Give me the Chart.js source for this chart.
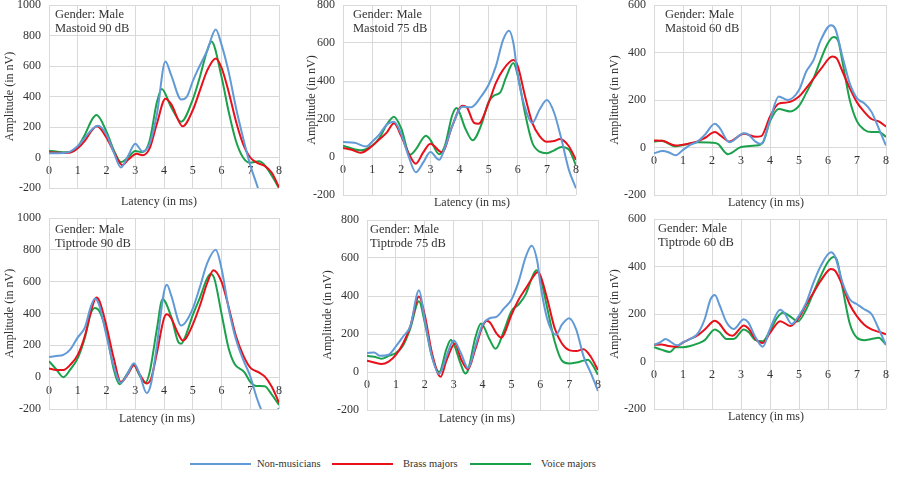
<!DOCTYPE html>
<html>
<head>
<meta charset="utf-8">
<script src="https://cdn.jsdelivr.net/npm/chart.js@4.4.1/dist/chart.umd.min.js"></script>
<style>
  body { margin: 0; background: #fff; width: 900px; height: 477px; position: relative; overflow: hidden;
         font-family: "Liberation Serif", "Times New Roman", serif; }
  .panel { position: absolute; }
  .key { position: absolute; top: 463px; height: 2px; width: 61px; }
  .keytxt { position: absolute; top: 457px; font-size: 10.5px; color: #333; line-height: 14px; }
</style>
</head>
<body>
<div class="panel" style="left:0px;top:0px;width:292px;height:210px"><canvas id="c1"></canvas></div>
<div class="panel" style="left:302px;top:0px;width:296px;height:210px"><canvas id="c2"></canvas></div>
<div class="panel" style="left:605px;top:0px;width:295px;height:210px"><canvas id="c3"></canvas></div>
<div class="panel" style="left:0px;top:210px;width:292px;height:220px"><canvas id="c4"></canvas></div>
<div class="panel" style="left:318px;top:210px;width:287px;height:220px"><canvas id="c5"></canvas></div>
<div class="panel" style="left:605px;top:210px;width:295px;height:220px"><canvas id="c6"></canvas></div>

<div class="key" style="left:190px;background:#619ad6"></div><div class="keytxt" style="left:257px">Non-musicians</div>
<div class="key" style="left:332px;background:#e8101a"></div><div class="keytxt" style="left:403px">Brass majors</div>
<div class="key" style="left:470px;background:#1ba14c"></div><div class="keytxt" style="left:541px">Voice majors</div>

<script>
// series names
const groups = ['Non-musicians', 'Brass majors', 'Voice majors'];
const colors = ['#619ad6', '#e8101a', '#1ba14c'];

// [latency ms, amplitude nV]

// Mastoid 90 dB
const m90Non = [[0,28],[0.5,30],[0.75,40],[1,75],[1.25,130],[1.5,185],[1.7,208],[2,150],[2.25,35],[2.5,-65],[2.75,10],[3,90],[3.25,40],[3.5,90],[3.75,280],[4.05,630],[4.25,540],[4.6,380],[4.8,400],[5,500],[5.15,565],[5.5,700],[5.8,840],[6,740],[6.25,560],[6.5,330],[6.75,130],[7,-50],[7.25,-190],[7.5,-350],[8,-700]];
const m90Brass = [[0,35],[0.5,30],[0.75,33],[1,60],[1.25,110],[1.5,180],[1.67,205],[2,130],[2.25,40],[2.55,-50],[2.75,-15],[3.05,25],[3.25,15],[3.5,60],[3.75,220],[4.05,385],[4.25,350],[4.65,205],[5,310],[5.25,440],[5.5,570],[5.8,650],[6,590],[6.25,430],[6.5,240],[6.75,90],[7,0],[7.25,-35],[7.5,-55],[7.75,-100],[8,-195]];
const m90Voice = [[0,45],[0.5,35],[0.75,35],[1,70],[1.25,150],[1.5,250],[1.65,278],[2,170],[2.25,50],[2.5,-30],[2.75,0],[3,42],[3.25,35],[3.5,110],[3.75,360],[3.92,450],[4.25,330],[4.6,235],[5,380],[5.25,530],[5.5,700],[5.65,760],[6,530],[6.25,300],[6.5,110],[6.75,0],[7,-35],[7.3,-25],[7.5,-50],[7.75,-120],[8,-200]];

// Mastoid 75 dB
const m75Non = [[0,79],[0.4,75],[0.8,55],[1,80],[1.25,119],[1.5,170],[1.75,185],[2,120],[2.25,5],[2.5,-80],[2.75,-30],[3,26],[3.3,-15],[3.5,50],[3.75,163],[4.1,265],[4.4,262],[4.75,320],[5,380],[5.25,478],[5.5,618],[5.7,665],[5.85,600],[6,430],[6.25,260],[6.5,180],[6.75,250],[7,300],[7.25,233],[7.5,93],[7.75,-65],[8,-165]];
const m75Brass = [[0,48],[0.3,38],[0.6,22],[1,58],[1.25,93],[1.5,128],[1.75,177],[2,110],[2.25,20],[2.5,-35],[2.75,23],[3,70],[3.4,25],[3.75,163],[4.1,270],[4.25,262],[4.5,180],[4.65,175],[5,285],[5.25,390],[5.5,460],[5.85,510],[6,478],[6.25,320],[6.5,180],[6.75,110],[7,80],[7.25,84],[7.45,95],[7.75,58],[8,-15]];
const m75Voice = [[0,60],[0.6,35],[1,60],[1.25,100],[1.5,170],[1.75,212],[2,150],[2.3,12],[2.5,40],[2.85,112],[3,90],[3.3,15],[3.5,60],[3.75,220],[3.9,258],[4.2,150],[4.45,88],[4.75,170],[5,290],[5.2,325],[5.4,340],[5.6,420],[5.85,495],[6,430],[6.25,230],[6.5,75],[6.75,28],[7,20],[7.25,35],[7.5,52],[7.75,40],[8,-45]];

// Mastoid 60 dB
const m60Non = [[0,-24],[0.3,-15],[0.5,-20],[0.75,-33],[1,-10],[1.25,11],[1.5,25],[1.75,53],[2.1,100],[2.25,85],[2.6,22],[3.1,60],[3.25,55],[3.5,25],[3.7,15],[4,116],[4.3,215],[4.6,200],[5,242],[5.25,320],[5.5,368],[5.75,452],[6.1,515],[6.25,500],[6.5,382],[6.75,270],[7,207],[7.25,186],[7.5,150],[7.75,80],[8,8]];
const m60Brass = [[0,30],[0.3,28],[0.75,8],[1,12],[1.5,25],[1.75,40],[2.1,65],[2.3,50],[2.6,25],[3.1,58],[3.5,45],[3.7,48],[4,130],[4.3,185],[4.6,190],[5,215],[5.25,250],[5.5,290],[5.75,330],[6.15,383],[6.3,375],[6.5,320],[6.75,250],[7,190],[7.25,150],[7.5,120],[7.75,110],[8,88]];
const m60Voice = [[0,25],[0.25,28],[0.75,5],[1,10],[1.5,22],[2,20],[2.2,15],[2.55,-28],[3,2],[3.5,8],[3.75,20],[4,110],[4.3,162],[4.7,152],[5,175],[5.25,230],[5.5,290],[5.75,370],[6,440],[6.2,465],[6.35,450],[6.5,360],[6.75,200],[7,110],[7.25,75],[7.5,65],[7.75,65],[8,45]];

// Tiptrode 90 dB
const t90Non = [[0,127],[0.25,133],[0.5,140],[0.75,176],[1,250],[1.25,313],[1.45,440],[1.6,495],[1.75,450],[2,260],[2.25,70],[2.5,-36],[2.75,27],[2.95,87],[3.15,20],[3.4,-100],[3.55,-40],[3.75,197],[4,535],[4.1,580],[4.25,514],[4.6,324],[4.75,345],[5,430],[5.25,567],[5.5,715],[5.8,800],[6,683],[6.25,430],[6.5,240],[6.75,112],[7,6],[7.25,-142],[7.5,-240],[7.75,-250],[8,-195]];
const t90Brass = [[0,55],[0.25,45],[0.5,45],[0.75,80],[1,140],[1.25,260],[1.5,440],[1.65,500],[1.75,480],[2,320],[2.25,120],[2.5,-30],[2.75,20],[2.95,75],[3.15,20],[3.4,-40],[3.55,-10],[3.75,150],[4,370],[4.1,395],[4.25,370],[4.5,270],[4.65,230],[4.75,240],[5,330],[5.25,450],[5.5,590],[5.72,672],[6,600],[6.25,440],[6.5,260],[6.75,140],[7,60],[7.3,30],[7.5,5],[7.75,-60],[8,-160]];
const t90Voice = [[0,100],[0.25,50],[0.5,0],[0.75,50],[1,120],[1.25,250],[1.45,400],[1.6,435],[1.75,415],[2,280],[2.25,50],[2.45,-45],[2.75,30],[2.95,78],[3.15,10],[3.35,-35],[3.5,30],[3.75,300],[3.95,490],[4.25,380],[4.5,220],[4.6,210],[4.75,260],[5,390],[5.25,500],[5.5,620],[5.62,648],[5.75,620],[6,400],[6.25,180],[6.45,85],[6.8,30],[7,-30],[7.2,-55],[7.5,-57],[7.75,-110],[8,-175]];

// Tiptrode 75 dB
const t75Non = [[0,100],[0.25,103],[0.45,85],[0.75,91],[1,135],[1.25,187],[1.5,240],[1.8,430],[2,275],[2.25,82],[2.5,-10],[2.75,82],[3,166],[3.25,100],[3.5,21],[3.75,135],[4,249],[4.25,283],[4.5,292],[4.75,336],[5,380],[5.25,476],[5.5,607],[5.7,665],[5.9,580],[6,467],[6.25,275],[6.55,196],[6.75,249],[7,283],[7.25,222],[7.5,82],[7.75,-5],[8,-100]];
const t75Brass = [[0,60],[0.25,50],[0.5,42],[0.75,55],[1,90],[1.25,150],[1.5,240],[1.8,398],[2,300],[2.25,100],[2.55,-25],[2.75,60],[3.05,150],[3.25,70],[3.5,15],[3.75,120],[4,240],[4.15,268],[4.25,262],[4.5,200],[4.65,180],[4.75,200],[5,300],[5.25,380],[5.5,440],[5.75,500],[5.9,525],[6,510],[6.25,380],[6.5,230],[6.75,150],[7,115],[7.25,110],[7.5,120],[7.75,80],[8,10]];
const t75Voice = [[0,85],[0.25,80],[0.5,70],[0.75,85],[1,100],[1.25,140],[1.5,230],[1.8,372],[2,260],[2.25,80],[2.5,0],[2.75,120],[2.9,168],[3,150],[3.25,40],[3.4,-8],[3.5,10],[3.75,180],[3.95,255],[4.25,170],[4.45,122],[4.75,220],[5,320],[5.25,355],[5.5,410],[5.75,510],[5.87,535],[6,500],[6.25,330],[6.5,160],[6.75,60],[7,45],[7.25,50],[7.5,60],[7.65,65],[7.8,40],[8,-15]];

// Tiptrode 60 dB
const t60Non = [[0,70],[0.2,80],[0.4,95],[0.55,85],[0.8,68],[1,81],[1.25,95],[1.5,116],[1.75,179],[1.95,262],[2.1,280],[2.25,241],[2.5,165],[2.75,137],[3.1,178],[3.25,165],[3.5,102],[3.75,62],[4,137],[4.35,218],[4.5,204],[4.75,158],[5,193],[5.25,248],[5.5,332],[5.75,402],[6.1,460],[6.25,440],[6.5,332],[6.75,262],[7,241],[7.25,220],[7.5,200],[7.75,137],[8,70]];
const t60Brass = [[0,70],[0.25,72],[0.5,65],[0.75,62],[1,80],[1.25,95],[1.5,110],[1.75,135],[2.1,172],[2.25,160],[2.5,120],[2.7,108],[3.1,152],[3.25,140],[3.5,95],[3.75,78],[4,120],[4.35,170],[4.7,150],[5,185],[5.25,240],[5.5,290],[5.75,340],[6.1,390],[6.25,382],[6.5,320],[6.75,240],[7,190],[7.25,155],[7.5,135],[7.75,125],[8,115]];
const t60Voice = [[0,60],[0.25,50],[0.55,40],[0.75,60],[1,60],[1.25,65],[1.5,75],[1.75,90],[2.1,135],[2.25,125],[2.5,95],[2.75,95],[3.1,135],[3.25,125],[3.5,90],[3.75,85],[4,130],[4.25,185],[4.45,205],[4.75,185],[4.95,168],[5.25,220],[5.5,290],[5.75,360],[6,420],[6.2,440],[6.3,430],[6.5,310],[6.75,160],[7,100],[7.25,90],[7.5,95],[7.75,100],[8,70]];

// axis limits per panel
const yMaxes = [1000, 800, 600, 1000, 800, 600];
const yMin = -200;
const xTicksMax = 8;

const labels = [
  ['Gender: Male', 'Mastoid 90 dB'],
  ['Gender: Male', 'Mastoid 75 dB'],
  ['Gender: Male', 'Mastoid 60 dB'],
  ['Gender: Male', 'Tiptrode 90 dB'],
  ['Gender: Male', 'Tiptrode 75 dB'],
  ['Gender: Male', 'Tiptrode 60 dB']
];
const seriesByPanel = [
  [m90Non, m90Brass, m90Voice],
  [m75Non, m75Brass, m75Voice],
  [m60Non, m60Brass, m60Voice],
  [t90Non, t90Brass, t90Voice],
  [t75Non, t75Brass, t75Voice],
  [t60Non, t60Brass, t60Voice]
];

// layout: y axis width, padding, label spots (canvas coords)
const layoutInfo = [
  { yW: 49, pad: { left: 0, top: 5, right: 13, bottom: 22 }, note: [55, 15], title: [159, 202] },
  { yW: 41, pad: { left: 0, top: 5, right: 22, bottom: 15 }, note: [51, 15], title: [170, 203] },
  { yW: 49, pad: { left: 0, top: 5, right: 14, bottom: 15 }, note: [60, 15], title: [161, 203] },
  { yW: 49, pad: { left: 0, top: 8, right: 13, bottom: 21 }, note: [55, 20], title: [157, 209] },
  { yW: 49, pad: { left: 0, top: 10, right: 7, bottom: 20 }, note: [52, 20], title: [159, 209] },
  { yW: 49, pad: { left: 0, top: 9, right: 14, bottom: 21 }, note: [53, 19], title: [161, 207] }
];

const textColor = '#333333';
const gridColor = '#d9d9d9';
const serif = '"Liberation Serif", "Times New Roman", serif';

// draws the in-plot note and the x axis title
const panelText = {
  id: 'panelText',
  afterDraw(chart, args, opts) {
    const ctx = chart.ctx;
    ctx.save();
    ctx.fillStyle = textColor;
    ctx.textBaseline = 'middle';
    ctx.font = '12.5px ' + serif;
    ctx.textAlign = 'left';
    opts.note.forEach((t, i) => ctx.fillText(t, opts.noteX, opts.noteY + i * 14));
    ctx.font = '12px ' + serif;
    ctx.textAlign = 'center';
    ctx.fillText('Latency (in ms)', opts.titleX, opts.titleY);
    ctx.restore();
  }
};

seriesByPanel.forEach((series, p) => {
  const info = layoutInfo[p];
  new Chart(document.getElementById('c' + (p + 1)), {
    type: 'line',
    data: {
      datasets: series.map((pts, i) => ({
        label: groups[i],
        data: pts,
        borderColor: colors[i],
        borderWidth: 2,
        pointRadius: 0,
        fill: false,
        cubicInterpolationMode: 'monotone'
      }))
    },
    options: {
      responsive: true,
      maintainAspectRatio: false,
      animation: false,
      layout: { padding: info.pad },
      plugins: {
        legend: { display: false },
        tooltip: { enabled: false },
        panelText: {
          note: labels[p], noteX: info.note[0], noteY: info.note[1],
          titleX: info.title[0], titleY: info.title[1]
        }
      },
      scales: {
        x: {
          type: 'linear',
          min: 0, max: xTicksMax,
          position: { y: 0 },
          ticks: { stepSize: 1, padding: 6, color: textColor, font: { family: serif, size: 12 } },
          grid: { color: gridColor, drawTicks: false },
          border: { color: gridColor },
          afterFit: s => { s.height = 0; s.paddingLeft = 0; s.paddingRight = 0; }
        },
        y: {
          min: yMin, max: yMaxes[p],
          ticks: { stepSize: 200, padding: 8, color: textColor, font: { family: serif, size: 12 },
                   callback: v => String(v) },
          grid: { color: gridColor, drawTicks: false },
          border: { color: gridColor },
          title: { display: true, text: 'Amplitude (in nV)', color: textColor,
                   font: { family: serif, size: 12 }, padding: { top: 3, bottom: 0 } },
          afterFit: s => { s.width = info.yW; s.paddingTop = 0; s.paddingBottom = 0; }
        }
      }
    },
    plugins: [panelText]
  });
});
</script>
</body>
</html>
